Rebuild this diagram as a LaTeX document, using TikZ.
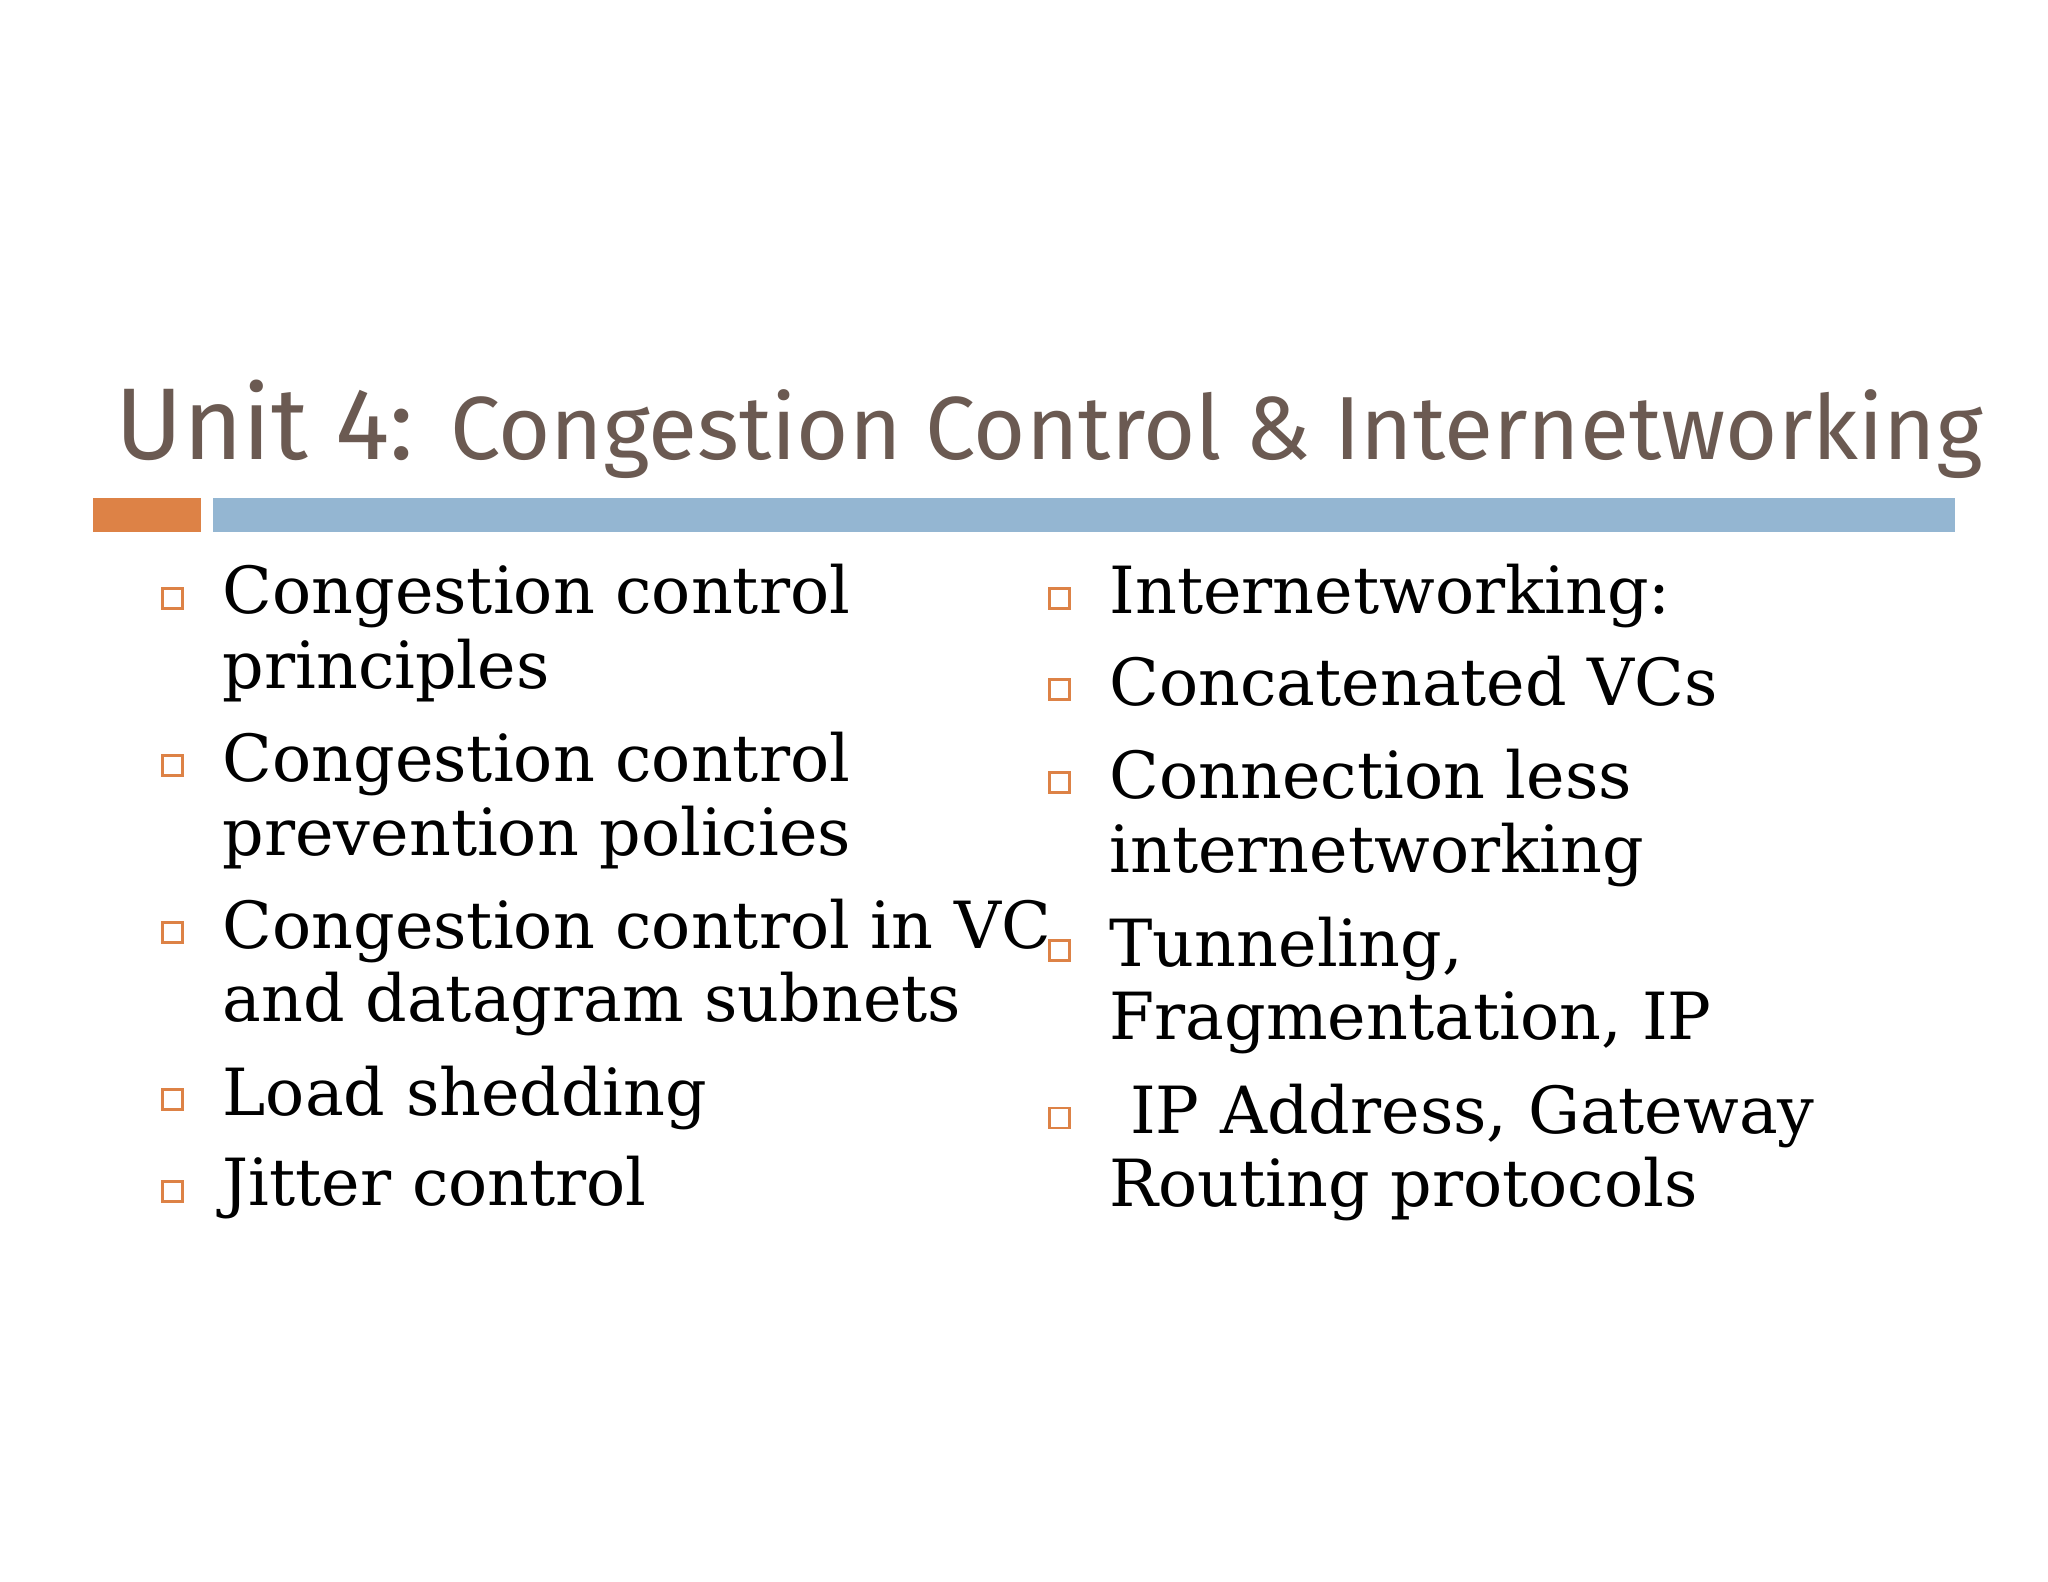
\documentclass[tikz,border=0pt]{standalone}
\usepackage{fontspec}
\setmainfont{DejaVu Serif}
\newfontfamily\titlefont{Fira Sans}
\definecolor{tbrown}{HTML}{6B5A52}
\definecolor{torange}{HTML}{DD8246}
\definecolor{tblue}{HTML}{94B6D2}
\begin{document}
\begin{tikzpicture}[x=0.01306cm,y=-0.01306cm,
  itm/.style={anchor=base west,inner sep=0pt,font=\fontsize{18.5}{22}\selectfont},
  bul/.style={draw=torange,line width=0.8pt,minimum size=0.2cm,inner sep=0pt}]
\useasboundingbox (0,0) rectangle (1568,1211);
\fill[white] (0,0) rectangle (1568,1211);
\node[anchor=base west,inner sep=0pt,text=tbrown] (title) at (88,352)
  {\titlefont\fontsize{29}{34}\selectfont Unit 4: {\fontsize{25.5}{30}\selectfont Congestion Control \& Internetworking}};
\fill[torange] (71,381) rectangle (154,407);
\fill[tblue] (163,381) rectangle (1497,407);
% left
\foreach \n/\y in {a/458,b/586,c/714,d/842,e/912}{\node[bul] (b\n) at (132,\y) {};}
\foreach \n/\y in {f/458,g/528,h/599,i/728,j/856}{\node[bul] (b\n) at (811,\y) {};}
\node[itm] (l1) at (170,470) {Congestion control};
\node[itm] (l2) at (170,527) {principles};
\node[itm] (l3) at (170,598) {Congestion control};
\node[itm] (l4) at (170,655) {prevention policies};
\node[itm] (l5) at (170,726) {Congestion control in VC};
\node[itm] (l6) at (170,782) {and datagram subnets};
\node[itm] (l7) at (170,854) {Load shedding};
\node[itm] (l8) at (170,923) {Jitter control};
\node[itm] (r1) at (849,470) {Internetworking:};
\node[itm] (r2) at (849,540) {Concatenated VCs};
\node[itm] (r3) at (849,611) {Connection less};
\node[itm] (r4) at (849,668) {internetworking};
\node[itm] (r5) at (849,740) {Tunneling,};
\node[itm] (r6) at (849,796) {Fragmentation, IP};
\node[itm] (r7) at (849,868) {\ IP Address, Gateway};
\node[itm] (r8) at (849,924) {Routing protocols};
\end{tikzpicture}
\end{document}
